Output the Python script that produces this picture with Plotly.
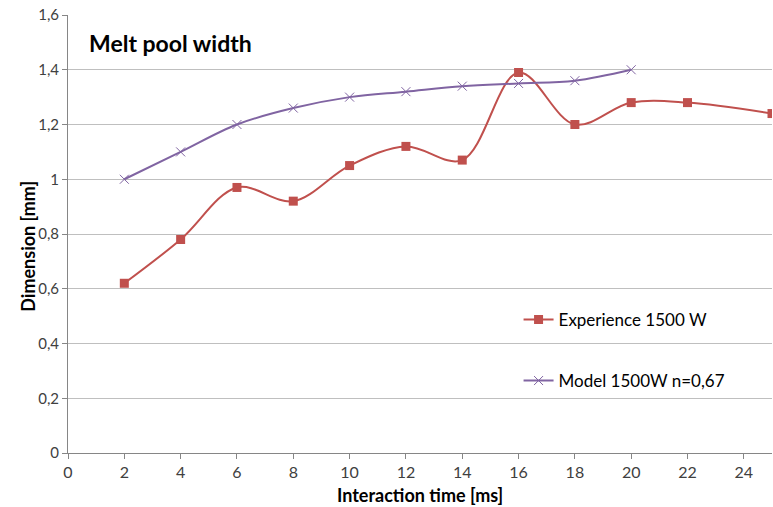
import plotly.graph_objects as go

# Interaction time [ms]
exp_time = [2, 4, 6, 8, 10, 12, 14, 16, 18, 20, 22, 25]
exp_width = [0.62, 0.78, 0.97, 0.92, 1.05, 1.12, 1.07, 1.39, 1.20, 1.28, 1.28, 1.24]

model_time = [2, 4, 6, 8, 10, 12, 14, 16, 18, 20]
model_width = [1.00, 1.10, 1.20, 1.26, 1.30, 1.32, 1.34, 1.35, 1.36, 1.40]

x_ticks = [0, 2, 4, 6, 8, 10, 12, 14, 16, 18, 20, 22, 24]
y_ticks = [0, 0.2, 0.4, 0.6, 0.8, 1.0, 1.2, 1.4, 1.6]
y_labels = ["0", "0,2", "0,4", "0,6", "0,8", "1", "1,2", "1,4", "1,6"]

RED = "#C0504D"
PURPLE = "#8064A2"
FONT = "Lato, Carlito, Calibri, sans-serif"

fig = go.Figure()
fig.add_trace(go.Scatter(
    x=exp_time, y=exp_width, name="Experience 1500 W",
    mode="lines+markers", legendgroup="exp",
    line=dict(color=RED, width=2, shape="spline", smoothing=1),
    marker=dict(symbol="square", size=9, color=RED),
))
fig.add_trace(go.Scatter(
    x=model_time, y=model_width, name="Model 1500W n=0,67",
    mode="lines+markers", legendgroup="model",
    line=dict(color=PURPLE, width=2, shape="spline", smoothing=1),
    marker=dict(symbol="x-thin", size=9, color=PURPLE,
                line=dict(color=PURPLE, width=1)),
))

# chart title inside the plotting area
fig.add_annotation(
    text="<b>Melt pool width</b>", xref="paper", yref="paper",
    x=0.027, y=0.937, xanchor="left", yanchor="middle", showarrow=False,
    font=dict(family=FONT, size=23, color="#000000"),
)

# axis titles
fig.add_annotation(
    text="<b>Interaction time [ms]</b>", xref="paper", yref="paper",
    x=0.5, y=-0.097, xanchor="center", yanchor="middle", showarrow=False,
    font=dict(family=FONT, size=18, color="#000000"),
)
fig.add_annotation(
    text="<b>Dimension [mm]</b>", xref="paper", yref="paper",
    x=-0.057, y=0.473, xanchor="center", yanchor="middle", showarrow=False,
    textangle=-90,
    font=dict(family=FONT, size=18, color="#000000"),
)

fig.update_layout(
    width=773, height=507,
    margin=dict(l=68, r=1, t=15, b=54),
    paper_bgcolor="white", plot_bgcolor="white",
    font=dict(family=FONT, size=13, color="#404040"),
    showlegend=True,
    legend=dict(
        x=0.64, y=0.345, xanchor="left", yanchor="top",
        font=dict(family=FONT, size=17, color="#000000"),
        bgcolor="rgba(0,0,0,0)", tracegroupgap=36, itemwidth=30,
        traceorder="grouped",
    ),
    xaxis=dict(
        range=[0, 25], tickvals=x_ticks, showgrid=False,
        showline=True, linecolor="#868686", linewidth=1,
        ticks="outside", ticklen=5, tickcolor="#868686",
        tickfont=dict(size=16, color="#404040"),
        zeroline=False,
    ),
    yaxis=dict(
        range=[0, 1.6], tickvals=y_ticks, ticktext=y_labels,
        showgrid=True, gridcolor="#BFBFBF", gridwidth=1,
        showline=True, linecolor="#868686", linewidth=1,
        ticks="outside", ticklen=5, tickcolor="#868686",
        tickfont=dict(size=15, color="#404040"),
        zeroline=False,
    ),
)

fig.write_html("out.html")
